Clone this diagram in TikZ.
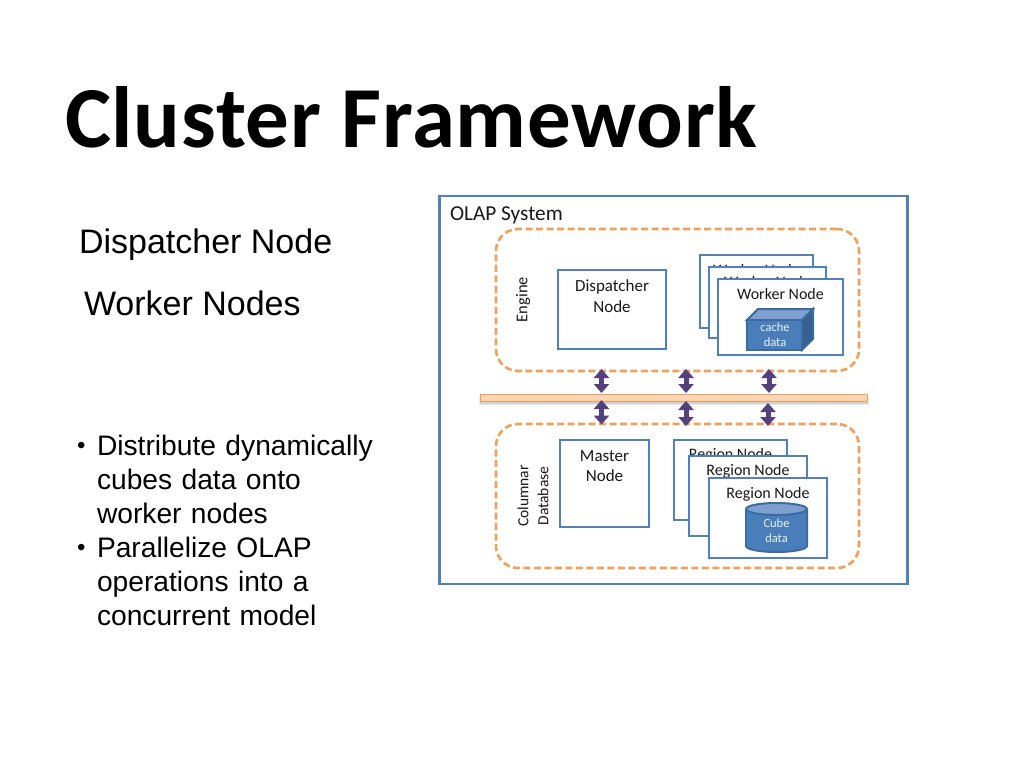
\documentclass[tikz,border=0pt]{standalone}
\usepackage{fontspec}
\setmainfont{Carlito}
\newfontfamily\arialf{Liberation Sans}
\usetikzlibrary{arrows.meta,shapes.geometric,shadows}
\definecolor{bluel}{HTML}{4F81BD}
\definecolor{cubef}{HTML}{4A7EBB}
\definecolor{cubetop}{HTML}{7FA0CE}
\definecolor{cubeside}{HTML}{37608F}
\definecolor{cubeedge}{HTML}{3A6BA5}
\definecolor{orangel}{HTML}{F0A05A}
\definecolor{barfill}{HTML}{FBD5B5}
\definecolor{purp}{HTML}{54407C}
\tikzset{
  x=1pt,y=-1pt,
  every node/.style={inner sep=0pt,outer sep=0pt},
  box/.style={draw=bluel,line width=2.8pt,fill=white,rectangle},
  dashbox/.style={draw=orangel,line width=2.6pt,rectangle,rounded corners=22pt,dash pattern=on 7pt off 3.5pt},
  smalltext/.style={font=\fontsize{16}{20.5}\selectfont,align=center,text=black!90},
  widetext/.style={font=\fontsize{17}{20.5}\selectfont,align=center,text=black!90},
  celltext/.style={font=\fontsize{12.5}{15.5}\selectfont,align=center,text=white!88!bluel},
  biarrow/.style={draw=purp,line width=5pt,{Triangle[length=9pt,width=15pt]}-{Triangle[length=9pt,width=15pt]}},
  lefttext/.style={font=\arialf\fontsize{34}{40}\selectfont,anchor=west,text=black},
  bullettext/.style={font=\arialf\fontsize{28.2}{34}\selectfont,anchor=north west,align=left,text width=300pt,text=black},
  bulletmark/.style={font=\arialf\fontsize{24}{34}\selectfont,anchor=west,text=black},
}
\begin{document}
\begin{tikzpicture}
\useasboundingbox[fill=white] (0,0) rectangle (1024,768);
\node[font=\bfseries\fontsize{87}{90}\selectfont\addfontfeature{LetterSpace=0.9},anchor=west] (title) at (65,117) {Cluster Framework};
\node[lefttext] (ld) at (79,245) {Dispatcher Node};
\node[lefttext] (lw) at (84,303) {Worker Nodes};
\node[bulletmark] (b1) at (77,448) {•};
\node[bullettext] (t1) at (97,435) {Distribute dynamically\\cubes data onto\\worker nodes\\Parallelize OLAP\\operations into a\\concurrent model};
\node[bulletmark] (b2) at (77,550) {•};
% system
\node[box,minimum width=468pt,minimum height=388pt] (sys) at (673.5,390) {};
\node[smalltext,font=\fontsize{21.3}{24}\selectfont,anchor=west] (systxt) at (450,215.5) {OLAP System};
\node[dashbox,minimum width=363pt,minimum height=142pt] (eng) at (677.5,300) {};
\node[dashbox,minimum width=363pt,minimum height=144pt] (db) at (677.5,496) {};
\node[smalltext,rotate=90,font=\fontsize{16.5}{20}\selectfont] (engl) at (523,299.5) {Engine};
\node[smalltext,rotate=90,font=\fontsize{15.5}{20}\selectfont] (dbl) at (533,496) {Columnar\\Database};
% dispatcher
\node[box,minimum width=108pt,minimum height=79pt] (disp) at (612,309.5) {};
\node[widetext] (dispt) at (612,296) {Dispatcher\\Node};
% workers
\node[box,minimum width=113pt,minimum height=73pt] (w1) at (756.5,291.5) {};
\node[smalltext] (w1t) at (756.5,270) {Worker Node};
\node[box,minimum width=117pt,minimum height=71pt] (w2) at (767.5,302.5) {};
\node[smalltext] (w2t) at (767.5,282) {Worker Node};
\node[box,minimum width=125pt,minimum height=76pt] (w3) at (780.5,317) {};
\node[smalltext] (w3t) at (780.5,294) {Worker Node};
% cube
\fill[cubetop,draw=cubeedge,line width=2pt] (747,320) -- (758,309) -- (813,309) -- (802,320) -- cycle;
\fill[cubeside,draw=cubeedge,line width=2pt] (802,320) -- (813,309) -- (813,339) -- (802,350) -- cycle;
\node[rectangle,fill=cubef,draw=cubeedge,line width=2pt,minimum width=55pt,minimum height=30pt] (cube) at (774.5,335) {};
\node[celltext] (cubet) at (775,334.5) {cache\\data};
% master
\node[box,minimum width=89pt,minimum height=87pt] (mast) at (604.5,483.5) {};
\node[widetext] (mastt) at (604.5,466) {Master\\Node};
% regions
\node[box,minimum width=113pt,minimum height=80pt] (r1) at (730.5,480) {};
\node[smalltext] (r1t) at (730.5,455.5) {Region Node};
\node[box,minimum width=118pt,minimum height=80pt] (r2) at (748,496) {};
\node[smalltext] (r2t) at (748,471.5) {Region Node};
\node[box,minimum width=118pt,minimum height=80pt] (r3) at (768,518) {};
\node[smalltext] (r3t) at (768,494.5) {Region Node};
% cylinder
\fill[cubef,draw=cubeedge,line width=2pt] (746,509) -- (746,546) arc[start angle=180,end angle=360,x radius=30.5pt,y radius=6pt] -- (807,509) -- cycle;
\node[ellipse,fill=cubetop,draw=cubeedge,line width=2pt,minimum width=61pt,minimum height=12pt] (cyl) at (776.5,509) {};
\node[celltext] (cylt) at (776.5,530.5) {Cube\\data};
% bus
\fill[black!8] (479,396) rectangle (869,405);
\fill[black!18] (480,397) rectangle (868,403.5);
\node[rectangle,fill=barfill,draw=orangel,line width=1pt,minimum width=387pt,minimum height=6.5pt] (bus) at (673.5,398) {};
% arrows
\coordinate (a1t) at (601.5,369); \coordinate (a1m) at (601.5,393);
\coordinate (a2t) at (686,369);   \coordinate (a2m) at (686,393);
\coordinate (a3t) at (769,369);   \coordinate (a3m) at (769,393);
\coordinate (b1t) at (601.5,400); \coordinate (b1m) at (601.5,424.5);
\coordinate (b2t) at (686,401);   \coordinate (b2m) at (686,426);
\coordinate (b3t) at (768,403);   \coordinate (b3m) at (768,426);
\draw[biarrow] (a1t) -- (a1m);
\draw[biarrow] (a2t) -- (a2m);
\draw[biarrow] (a3t) -- (a3m);
\draw[biarrow] (b1t) -- (b1m);
\draw[biarrow] (b2t) -- (b2m);
\draw[biarrow] (b3t) -- (b3m);
\end{tikzpicture}
\end{document}
